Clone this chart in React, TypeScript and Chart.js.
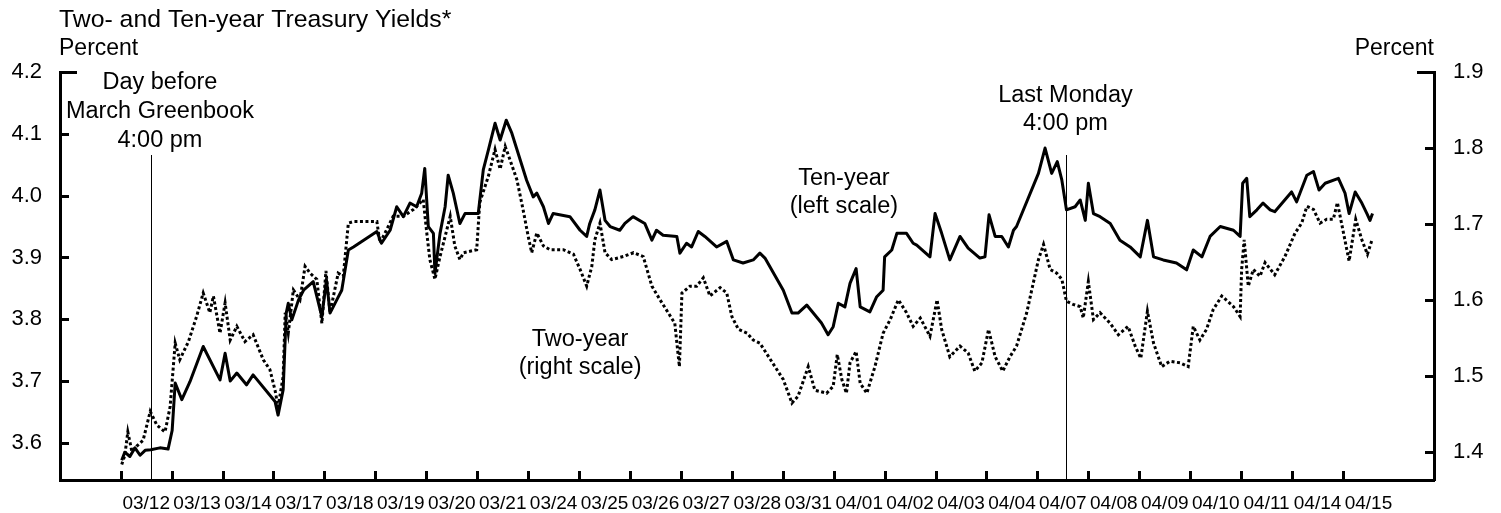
import React, { useEffect, useRef } from 'react';
import { Chart, registerables } from 'chart.js';

Chart.register(...registerables);

const FONT = '"Liberation Sans", Arial, Helvetica, sans-serif';

const dayLabels = ['03/12', '03/13', '03/14', '03/17', '03/18', '03/19', '03/20', '03/21', '03/24', '03/25', '03/26', '03/27', '03/28', '03/31', '04/01', '04/02', '04/03', '04/04', '04/07', '04/08', '04/09', '04/10', '04/11', '04/14', '04/15'];

// time = trading-day index (day i runs from i to i+1)
const tenYearTime = [
  0.02, 0.08, 0.18, 0.28, 0.38, 0.48, 0.59, 0.77, 0.93, 1.01,
  1.07, 1.20, 1.36, 1.62, 1.95, 2.05, 2.15, 2.28, 2.47, 2.60,
  3.03, 3.09, 3.19, 3.25, 3.29, 3.36, 3.49, 3.59, 3.78, 3.95,
  4.04, 4.11, 4.24, 4.34, 4.47, 4.57, 5.03, 5.12, 5.29, 5.42,
  5.55, 5.68, 5.81, 5.91, 5.97, 6.04, 6.14, 6.17, 6.27, 6.37,
  6.43, 6.53, 6.66, 6.76, 7.02, 7.12, 7.22, 7.35, 7.45, 7.57,
  7.68, 7.97, 8.10, 8.17, 8.30, 8.40, 8.49, 8.82, 9.02, 9.15,
  9.21, 9.31, 9.41, 9.51, 9.61, 9.80, 9.90, 10.06, 10.29, 10.43,
  10.52, 10.65, 10.92, 10.98, 11.11, 11.21, 11.34, 11.47, 11.70, 11.90,
  12.03, 12.22, 12.42, 12.55, 12.65, 13.01, 13.18, 13.30, 13.47, 13.76,
  13.89, 13.99, 14.09, 14.22, 14.32, 14.44, 14.52, 14.71, 14.84, 14.97,
  15.00, 15.14, 15.24, 15.43, 15.56, 15.63, 15.89, 15.99, 16.12, 16.28,
  16.48, 16.64, 16.87, 16.97, 17.05, 17.17, 17.30, 17.43, 17.53, 17.59,
  18.02, 18.15, 18.28, 18.39, 18.48, 18.57, 18.74, 18.84, 18.94, 19.00,
  19.10, 19.23, 19.43, 19.62, 19.82, 20.02, 20.16, 20.28, 20.47, 20.73,
  20.93, 21.06, 21.23, 21.39, 21.59, 21.85, 21.98, 22.03, 22.11, 22.17,
  22.31, 22.43, 22.57, 22.66, 22.99, 23.09, 23.29, 23.42, 23.53, 23.65,
  23.91, 24.04, 24.12, 24.24, 24.37, 24.47, 24.53, 24.58,
];
const tenYearYield = [
  3.572, 3.585, 3.578, 3.592, 3.580, 3.588, 3.589, 3.592, 3.590, 3.620,
  3.697, 3.670, 3.699, 3.756, 3.702, 3.745, 3.700, 3.713, 3.694, 3.710,
  3.667, 3.645, 3.686, 3.810, 3.826, 3.799, 3.831, 3.847, 3.861, 3.804,
  3.864, 3.810, 3.831, 3.847, 3.912, 3.917, 3.942, 3.923, 3.944, 3.982,
  3.966, 3.988, 3.982, 4.004, 4.044, 3.950, 3.939, 3.874, 3.939, 3.982,
  4.033, 4.004, 3.955, 3.971, 3.971, 4.042, 4.074, 4.117, 4.090, 4.122,
  4.101, 4.025, 3.998, 4.004, 3.982, 3.955, 3.971, 3.966, 3.944, 3.934,
  3.955, 3.977, 4.009, 3.960, 3.950, 3.944, 3.955, 3.966, 3.955, 3.928,
  3.944, 3.936, 3.934, 3.907, 3.923, 3.917, 3.942, 3.934, 3.917, 3.926,
  3.896, 3.891, 3.896, 3.907, 3.899, 3.847, 3.810, 3.810, 3.823, 3.794,
  3.775, 3.788, 3.826, 3.820, 3.858, 3.882, 3.820, 3.812, 3.836, 3.847,
  3.901, 3.912, 3.939, 3.939, 3.923, 3.920, 3.901, 3.971, 3.939, 3.896,
  3.934, 3.915, 3.899, 3.901, 3.969, 3.934, 3.934, 3.917, 3.944, 3.950,
  4.036, 4.077, 4.036, 4.055, 4.025, 3.977, 3.982, 3.993, 3.960, 4.020,
  3.971, 3.966, 3.955, 3.928, 3.917, 3.901, 3.960, 3.901, 3.896, 3.891,
  3.880, 3.912, 3.901, 3.934, 3.950, 3.944, 3.934, 4.020, 4.028, 3.966,
  3.977, 3.988, 3.977, 3.974, 4.006, 3.990, 4.033, 4.039, 4.009, 4.020,
  4.028, 4.004, 3.971, 4.006, 3.988, 3.971, 3.960, 3.971,
];

const twoYearTime = [
  0.02, 0.08, 0.14, 0.22, 0.31, 0.44, 0.58, 0.71, 0.87, 0.97,
  1.07, 1.16, 1.33, 1.49, 1.62, 1.75, 1.82, 1.95, 2.05, 2.15,
  2.28, 2.44, 2.60, 2.80, 2.93, 3.03, 3.09, 3.19, 3.23, 3.29,
  3.39, 3.52, 3.62, 3.72, 3.85, 3.95, 4.03, 4.11, 4.27, 4.37,
  4.47, 4.57, 5.03, 5.09, 5.19, 5.35, 5.55, 5.75, 5.94, 6.01,
  6.07, 6.17, 6.27, 6.47, 6.56, 6.66, 6.73, 6.99, 7.05, 7.22,
  7.35, 7.45, 7.55, 7.64, 7.78, 7.90, 8.00, 8.07, 8.17, 8.30,
  8.43, 8.69, 8.89, 9.02, 9.15, 9.25, 9.31, 9.41, 9.51, 9.64,
  9.87, 10.07, 10.26, 10.43, 10.59, 10.75, 10.88, 10.97, 11.02, 11.18,
  11.31, 11.44, 11.57, 11.77, 11.90, 12.00, 12.13, 12.30, 12.42, 12.55,
  13.01, 13.18, 13.30, 13.50, 13.63, 13.86, 13.99, 14.07, 14.16, 14.25,
  14.32, 14.44, 14.52, 14.65, 14.81, 14.97, 15.11, 15.27, 15.43, 15.56,
  15.70, 15.89, 16.03, 16.12, 16.28, 16.48, 16.64, 16.77, 16.91, 17.04,
  17.17, 17.32, 17.46, 17.59, 17.79, 18.02, 18.12, 18.25, 18.38, 18.48,
  18.57, 18.70, 18.84, 18.90, 19.00, 19.10, 19.23, 19.43, 19.59, 19.78,
  19.92, 20.03, 20.16, 20.28, 20.44, 20.60, 20.80, 20.96, 21.06, 21.19,
  21.32, 21.45, 21.62, 21.85, 21.98, 22.01, 22.06, 22.14, 22.24, 22.37,
  22.47, 22.66, 22.86, 23.06, 23.19, 23.29, 23.42, 23.55, 23.68, 23.81,
  23.89, 24.01, 24.12, 24.25, 24.37, 24.48, 24.57,
];
const twoYearYield = [
  1.383, 1.395, 1.426, 1.400, 1.407, 1.415, 1.453, 1.435, 1.426, 1.459,
  1.543, 1.521, 1.545, 1.578, 1.609, 1.583, 1.605, 1.556, 1.596, 1.547,
  1.565, 1.545, 1.554, 1.521, 1.508, 1.481, 1.459, 1.499, 1.583, 1.556,
  1.613, 1.600, 1.644, 1.635, 1.627, 1.569, 1.638, 1.583, 1.635, 1.631,
  1.701, 1.703, 1.703, 1.675, 1.688, 1.710, 1.710, 1.719, 1.732, 1.688,
  1.653, 1.627, 1.657, 1.710, 1.671, 1.653, 1.662, 1.666, 1.728, 1.763,
  1.798, 1.772, 1.802, 1.785, 1.758, 1.719, 1.684, 1.662, 1.688, 1.671,
  1.666, 1.666, 1.660, 1.640, 1.618, 1.644, 1.679, 1.701, 1.662, 1.653,
  1.657, 1.662, 1.657, 1.618, 1.600, 1.583, 1.569, 1.512, 1.609, 1.618,
  1.618, 1.629, 1.605, 1.616, 1.609, 1.578, 1.561, 1.556, 1.547, 1.543,
  1.495, 1.464, 1.473, 1.512, 1.481, 1.477, 1.486, 1.528, 1.495, 1.477,
  1.517, 1.532, 1.490, 1.477, 1.512, 1.556, 1.574, 1.600, 1.583, 1.565,
  1.576, 1.552, 1.600, 1.561, 1.525, 1.539, 1.530, 1.506, 1.517, 1.561,
  1.525, 1.506, 1.525, 1.539, 1.583, 1.653, 1.673, 1.640, 1.635, 1.627,
  1.598, 1.594, 1.591, 1.576, 1.624, 1.574, 1.583, 1.569, 1.554, 1.565,
  1.539, 1.523, 1.585, 1.543, 1.512, 1.519, 1.517, 1.512, 1.565, 1.547,
  1.561, 1.587, 1.605, 1.591, 1.578, 1.640, 1.679, 1.618, 1.640, 1.631,
  1.649, 1.633, 1.657, 1.688, 1.701, 1.723, 1.719, 1.701, 1.706, 1.706,
  1.728, 1.688, 1.651, 1.706, 1.679, 1.660, 1.679,
];

const leftTicks = [3.6, 3.7, 3.8, 3.9, 4.0, 4.1, 4.2];
const rightTicks = [1.4, 1.5, 1.6, 1.7, 1.8, 1.9];

const markerTimes = [0.59, 18.57];
const markerTextTimes = [0.77, 18.55];
const markerTexts = [
  ['Day before', 'March Greenbook', '4:00 pm'],
  ['Last Monday', '4:00 pm'],
];
const seriesNotes = [
  { time: 14.2, lines: ['Ten-year', '(left scale)'] },
  { time: 9.02, lines: ['Two-year', '(right scale)'] },
];

const overlayPlugin = {
  id: 'overlay',
  afterDraw(chart: any) {
    const ctx = chart.ctx as CanvasRenderingContext2D;
    const a = chart.chartArea;
    const xs = chart.scales.x;
    const yl = chart.scales.yL;
    const yr = chart.scales.yR;
    ctx.save();
    ctx.strokeStyle = '#000';
    ctx.fillStyle = '#000';
    ctx.lineCap = 'butt';

    ctx.lineWidth = 3;
    leftTicks.forEach((v, i) => {
      const y = Math.round(yl.getPixelForValue(v)) + 0.5;
      const len = i === leftTicks.length - 1 ? 17 : 9;
      ctx.beginPath();
      ctx.moveTo(a.left, y);
      ctx.lineTo(a.left + len, y);
      ctx.stroke();
    });
    rightTicks.forEach((v, i) => {
      const y = Math.round(yr.getPixelForValue(v)) + 0.5;
      const len = i === rightTicks.length - 1 ? 17 : 9;
      ctx.beginPath();
      ctx.moveTo(a.right, y);
      ctx.lineTo(a.right - len, y);
      ctx.stroke();
    });
    dayLabels.forEach((_, i) => {
      const x = Math.round(xs.getPixelForValue(i)) + 0.5;
      ctx.beginPath();
      ctx.moveTo(x, a.bottom);
      ctx.lineTo(x, a.bottom - 9);
      ctx.stroke();
    });

    ctx.lineWidth = 1;
    markerTimes.forEach((t) => {
      const x = Math.round(xs.getPixelForValue(t)) + 0.5;
      ctx.beginPath();
      ctx.moveTo(x, 155);
      ctx.lineTo(x, a.bottom);
      ctx.stroke();
    });

    ctx.textBaseline = 'alphabetic';
    ctx.textAlign = 'left';
    ctx.font = `24.8px ${FONT}`;
    ctx.fillText('Two- and Ten-year Treasury Yields*', 59, 27);
    ctx.font = `23px ${FONT}`;
    ctx.fillText('Percent', 59, 55);
    ctx.textAlign = 'right';
    ctx.fillText('Percent', a.right, 55);

    ctx.font = `23.5px ${FONT}`;
    ctx.textAlign = 'center';
    const m0 = xs.getPixelForValue(markerTextTimes[0]);
    [89, 118, 147].forEach((y, i) => ctx.fillText(markerTexts[0][i], m0, y));
    const m1 = xs.getPixelForValue(markerTextTimes[1]);
    [102, 130].forEach((y, i) => ctx.fillText(markerTexts[1][i], m1, y));

    const n0 = xs.getPixelForValue(seriesNotes[0].time);
    [185, 213].forEach((y, i) => ctx.fillText(seriesNotes[0].lines[i], n0, y));
    const n1 = xs.getPixelForValue(seriesNotes[1].time);
    [346, 374].forEach((y, i) => ctx.fillText(seriesNotes[1].lines[i], n1, y));
    ctx.restore();
  },
};

export default function App() {
  const canvasRef = useRef<HTMLCanvasElement | null>(null);

  useEffect(() => {
    const canvas = canvasRef.current;
    if (!canvas) return;
    const chart = new Chart(canvas, {
      type: 'line',
      data: {
        datasets: [
          {
            label: 'Ten-year',
            data: tenYearTime.map((t, i) => ({ x: t, y: tenYearYield[i] })),
            yAxisID: 'yL',
            borderColor: '#000',
            borderWidth: 3,
            pointRadius: 0,
            tension: 0,
            fill: false,
            borderJoinStyle: 'round',
          },
          {
            label: 'Two-year',
            data: twoYearTime.map((t, i) => ({ x: t, y: twoYearYield[i] })),
            yAxisID: 'yR',
            borderColor: '#000',
            borderWidth: 3,
            borderDash: [3, 2.5],
            pointRadius: 0,
            tension: 0,
            fill: false,
          },
        ],
      },
      options: {
        responsive: false,
        maintainAspectRatio: false,
        animation: false,
        layout: { padding: { top: 72, left: 0, right: 0, bottom: 0 } },
        plugins: {
          legend: { display: false },
          tooltip: { enabled: false },
          title: { display: false },
        },
        scales: {
          x: {
            type: 'linear',
            position: 'bottom',
            min: -1.192,
            max: 25.787,
            grid: { display: false, drawTicks: false },
            border: { display: true, color: '#000', width: 3 },
            ticks: {
              autoSkip: false,
              maxRotation: 0,
              minRotation: 0,
              color: '#000',
              padding: 12,
              font: { family: FONT, size: 19 },
              callback: (v: any) => dayLabels[Math.floor(Number(v))] ?? '',
            },
            afterBuildTicks: (s: any) => {
              s.ticks = dayLabels.map((_, i) => ({ value: i + 0.5 }));
            },
            afterFit: (s: any) => {
              s.height = 33;
            },
          },
          yL: {
            type: 'linear',
            position: 'left',
            min: 3.54,
            max: 4.2,
            grid: { display: false, drawTicks: false },
            border: { display: true, color: '#000', width: 3 },
            ticks: {
              color: '#000',
              padding: 18,
              font: { family: FONT, size: 22 },
              callback: (v: any) => Number(v).toFixed(1),
            },
            afterBuildTicks: (s: any) => {
              s.ticks = leftTicks.map((v) => ({ value: v }));
            },
            afterFit: (s: any) => {
              s.width = 60;
            },
          },
          yR: {
            type: 'linear',
            position: 'right',
            min: 1.3627,
            max: 1.9,
            grid: { display: false, drawTicks: false },
            border: { display: true, color: '#000', width: 3 },
            ticks: {
              color: '#000',
              padding: 19,
              font: { family: FONT, size: 22 },
              callback: (v: any) => Number(v).toFixed(1),
            },
            afterBuildTicks: (s: any) => {
              s.ticks = rightTicks.map((v) => ({ value: v }));
            },
            afterFit: (s: any) => {
              s.width = 67;
            },
          },
        },
      } as any,
      plugins: [overlayPlugin],
    });
    return () => chart.destroy();
  }, []);

  return (
    <div style={{ position: 'fixed', left: 0, top: 0, width: 1501, height: 513, background: '#fff' }}>
      <canvas ref={canvasRef} width={1501} height={513} style={{ display: 'block' }} />
    </div>
  );
}
